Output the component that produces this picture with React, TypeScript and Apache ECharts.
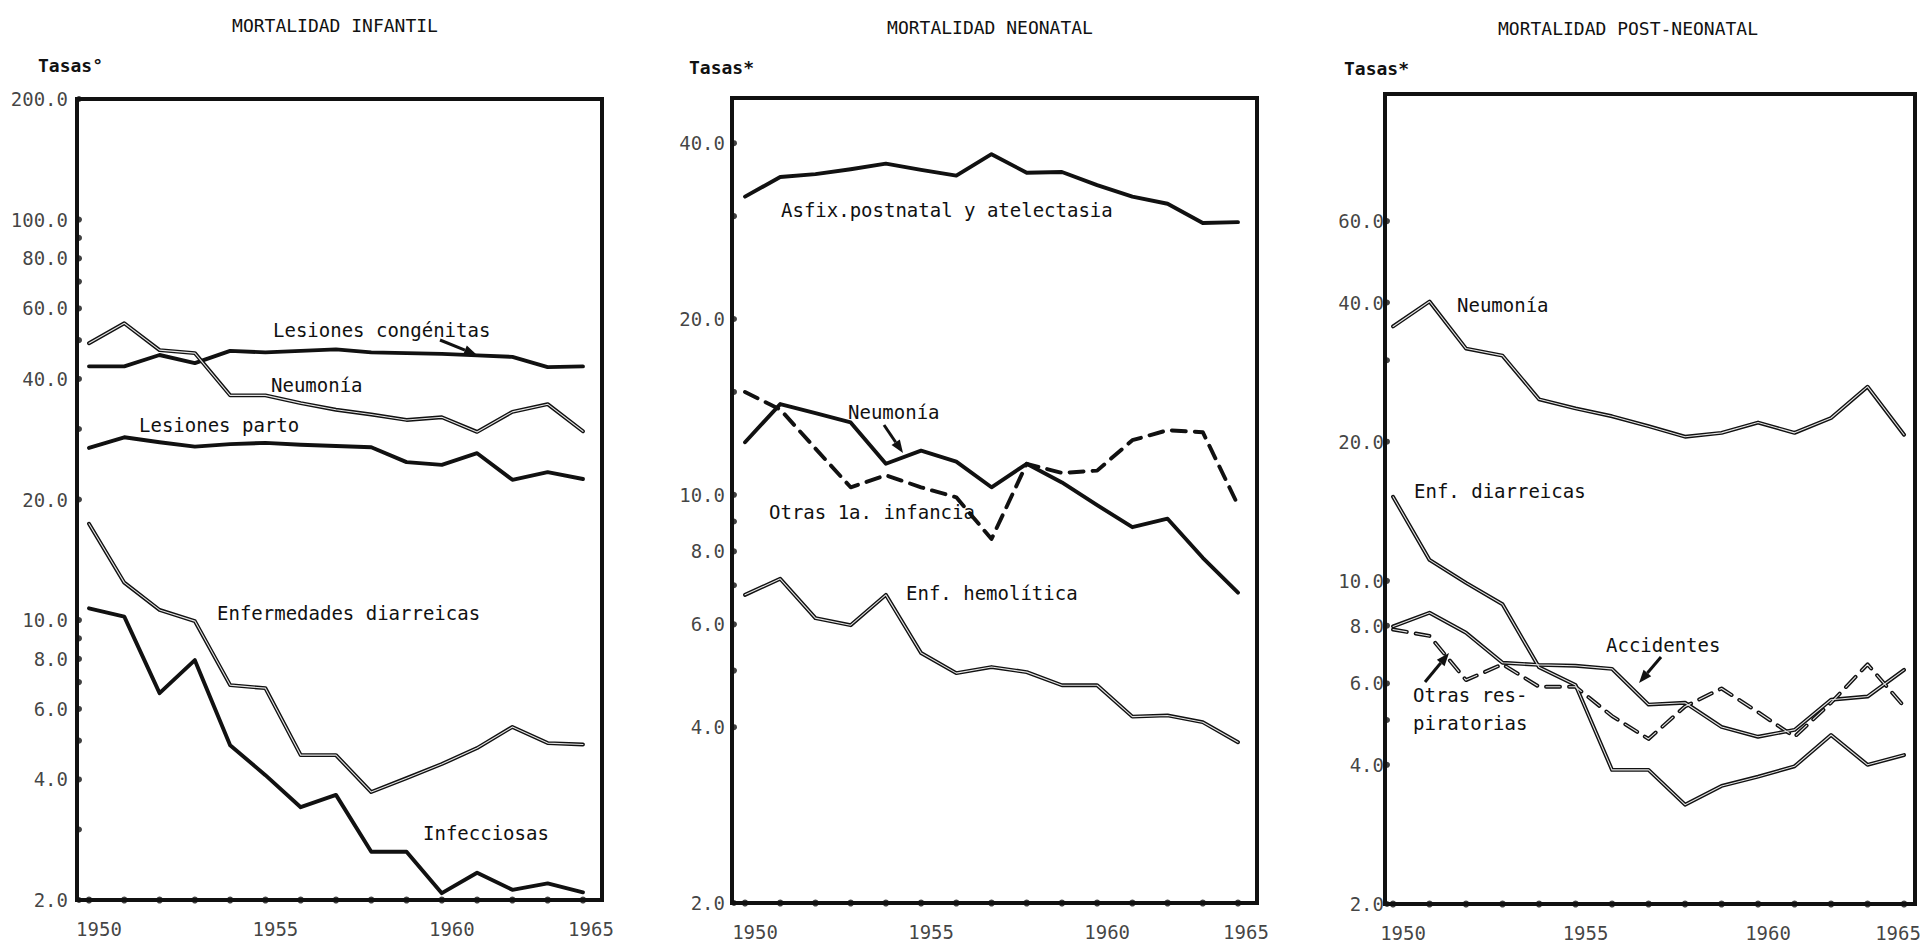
import React, { useEffect, useRef } from "react";
import * as echarts from "echarts";

// ---------- data ----------
const years = [1950, 1951, 1952, 1953, 1954, 1955, 1956, 1957, 1958, 1959, 1960, 1961, 1962, 1963, 1964];
const yearTickPositions = [1950, 1955, 1960, 1964];
const yearTickLabels = ["1950", "1955", "1960", "1965"];

const panelTitles = ["MORTALIDAD INFANTIL", "MORTALIDAD NEONATAL", "MORTALIDAD POST-NEONATAL"];
const unitLabels = ["Tasas°", "Tasas*", "Tasas*"];

// y-axis tick marks and labelled values (log scale)
const infantilTicks = [2, 3, 4, 5, 6, 7, 8, 9, 10, 20, 30, 40, 50, 60, 70, 80, 90, 100, 200];
const infantilTickLabels = [2, 4, 6, 8, 10, 20, 40, 60, 80, 100, 200];
const neonatalTicks = [2, 4, 5, 6, 7, 8, 9, 10, 15, 20, 30, 40];
const neonatalTickLabels = [2, 4, 6, 8, 10, 20, 40];
const postTicks = [2, 4, 5, 6, 8, 10, 20, 30, 40, 60];
const postTickLabels = [2, 4, 6, 8, 10, 20, 40, 60];

// Mortalidad infantil
const infLesionesCongenitas = [43.0, 43.0, 45.9, 43.8, 47.0, 46.6, 47.0, 47.4, 46.6, 46.4, 46.2, 45.8, 45.4, 42.8, 43.0];
const infNeumonia = [49.1, 55.1, 47.2, 46.4, 36.4, 36.4, 34.8, 33.5, 32.6, 31.6, 32.1, 29.5, 33.1, 34.6, 29.6];
const infLesionesParto = [26.9, 28.6, 27.8, 27.1, 27.5, 27.7, 27.4, 27.2, 27.0, 24.8, 24.4, 26.1, 22.4, 23.4, 22.5];
const infDiarreicas = [17.4, 12.4, 10.6, 9.94, 6.88, 6.76, 4.6, 4.6, 3.72, 4.03, 4.37, 4.79, 5.41, 4.93, 4.89];
const infInfecciosas = [10.7, 10.2, 6.57, 7.94, 4.87, 4.1, 3.41, 3.66, 2.64, 2.64, 2.08, 2.34, 2.12, 2.2, 2.09];

// Mortalidad neonatal
const neoAsfixia = [32.4, 35.0, 35.4, 36.1, 36.9, 36.0, 35.2, 38.3, 35.6, 35.7, 33.9, 32.4, 31.5, 29.2, 29.3];
const neoNeumonia = [12.3, 14.3, 13.8, 13.3, 11.3, 11.9, 11.4, 10.3, 11.3, 10.5, 9.6, 8.8, 9.1, 7.8, 6.8];
const neoOtrasInfancia = [15.0, 14.0, 12.0, 10.3, 10.8, 10.3, 9.9, 8.4, 11.3, 10.9, 11.0, 12.4, 12.9, 12.8, 9.6];
const neoHemolitica = [6.74, 7.18, 6.15, 5.98, 6.74, 5.36, 4.95, 5.07, 4.97, 4.72, 4.72, 4.17, 4.19, 4.08, 3.77];

// Mortalidad post-neonatal
const postNeumonia = [35.5, 40.2, 31.8, 30.7, 24.7, 23.6, 22.7, 21.6, 20.5, 20.9, 22.0, 20.9, 22.5, 26.3, 20.7];
const postDiarreicas = [15.2, 11.1, 9.9, 8.9, 6.5, 5.95, 3.9, 3.9, 3.28, 3.6, 3.77, 3.97, 4.64, 4.0, 4.2];
const postAccidentes = [7.97, 8.53, 7.72, 6.65, 6.58, 6.55, 6.45, 5.4, 5.45, 4.83, 4.6, 4.76, 5.53, 5.62, 6.42];
const postOtrasResp = [7.85, 7.6, 6.1, 6.6, 5.9, 5.9, 5.1, 4.55, 5.35, 5.85, 5.2, 4.6, 5.45, 6.6, 5.35];

// ---------- layout ----------
const FONT = "DejaVu Sans Mono";
const INK = "#111111";

const panels = [
  { grid: { left: 77, top: 99, width: 525, height: 801 }, xMin: 1949.66, xMax: 1964.54, yMax: 200, labelDistance: 8, titleX: 335, titleY: 25, unitX: 38, unitY: 65, lastLabelShift: 8, ticks: infantilTicks, tickLabels: infantilTickLabels },
  { grid: { left: 732, top: 98, width: 525, height: 805 }, xMin: 1949.63, xMax: 1964.54, yMax: 47.8, labelDistance: 6, titleX: 990, titleY: 27, unitX: 689, unitY: 67, lastLabelShift: 8, ticks: neonatalTicks, tickLabels: neonatalTickLabels },
  { grid: { left: 1385, top: 94, width: 530, height: 810 }, xMin: 1949.78, xMax: 1964.3, yMax: 113, labelDistance: 0, titleX: 1628, titleY: 28, unitX: 1344, unitY: 68, lastLabelShift: -6, ticks: postTicks, tickLabels: postTickLabels },
];

const annotations = [
  { text: "Lesiones congénitas", x: 273, y: 330 },
  { text: "Neumonía", x: 271, y: 385 },
  { text: "Lesiones parto", x: 139, y: 425 },
  { text: "Enfermedades diarreicas", x: 217, y: 613 },
  { text: "Infecciosas", x: 423, y: 833 },
  { text: "Asfix.postnatal y atelectasia", x: 781, y: 210 },
  { text: "Neumonía", x: 848, y: 412 },
  { text: "Otras 1a. infancia", x: 769, y: 512 },
  { text: "Enf. hemolítica", x: 906, y: 593 },
  { text: "Neumonía", x: 1457, y: 305 },
  { text: "Enf. diarreicas", x: 1414, y: 491 },
  { text: "Accidentes", x: 1606, y: 645 },
  { text: "Otras res-", x: 1413, y: 695 },
  { text: "piratorias", x: 1413, y: 723 },
];

const arrows = [
  [440, 340, 477, 355],
  [884, 425, 903, 453],
  [1661, 657, 1639, 683],
  [1425, 682, 1449, 653],
];

function lineSeries(panel: number, name: string, values: number[], dashed: boolean, hollow: boolean) {
  const pts = years.map((y, i) => [y, values[i]]);
  const type: any = dashed ? [14, 9] : "solid";
  const base: any = {
    type: "line",
    name,
    xAxisIndex: panel,
    yAxisIndex: panel,
    data: pts,
    symbol: "none",
    silent: true,
  };
  const out: any[] = [
    { ...base, z: 3, lineStyle: { color: INK, width: 3.9, type, cap: "round", join: "round" } },
  ];
  if (hollow) {
    out.push({ ...base, name: name + " (centro)", z: 4, lineStyle: { color: "#e4e4e4", width: 1.1, type, cap: "round", join: "round" } });
  }
  return out;
}

function arrowGraphic(x1: number, y1: number, x2: number, y2: number) {
  const ang = Math.atan2(y2 - y1, x2 - x1);
  const L = 13, W = 5;
  const bx = x2 - L * Math.cos(ang), by = y2 - L * Math.sin(ang);
  const px = -Math.sin(ang) * W, py = Math.cos(ang) * W;
  return [
    { type: "line", shape: { x1, y1, x2: bx, y2: by }, style: { stroke: INK, lineWidth: 3 } },
    { type: "polygon", shape: { points: [[x2, y2], [bx + px, by + py], [bx - px, by - py]] }, style: { fill: INK } },
  ];
}

function textGraphic(text: string, x: number, y: number, align: string, size: number, weight: string) {
  return {
    type: "text",
    x,
    y,
    silent: true,
    style: {
      text,
      x: 0,
      y: 0,
      fill: INK,
      font: `${weight} ${size}px "${FONT}"`,
      align,
      verticalAlign: "middle",
      textAlign: align,
      textVerticalAlign: "middle",
    },
  };
}

export default function App() {
  const ref = useRef<HTMLDivElement>(null);

  useEffect(() => {
    if (!ref.current) return;
    const chart = echarts.init(ref.current, undefined, { renderer: "svg" });

    const grids = panels.map((p) => ({
      ...p.grid,
      show: true,
      borderColor: INK,
      borderWidth: 4,
      backgroundColor: "transparent",
    }));
    const xAxes = panels.map((p, i) => ({ type: "value", gridIndex: i, min: p.xMin, max: p.xMax, show: false }));
    const yAxes = panels.map((p, i) => ({ type: "log", logBase: 10, gridIndex: i, min: 2, max: p.yMax, show: false }));

    const series: any[] = [];
    // axis tick dots + labels
    panels.forEach((p, i) => {
      series.push({
        type: "scatter",
        name: "ticks" + i,
        xAxisIndex: i,
        yAxisIndex: i,
        clip: false,
        silent: true,
        z: 6,
        symbol: "circle",
        symbolSize: 6,
        symbolOffset: [2, 0],
        itemStyle: { color: INK },
        data: p.ticks.map((v) => [p.xMin, v]),
        label: {
          show: true,
          position: "left",
          distance: p.labelDistance,
          color: INK,
          fontFamily: FONT,
          fontSize: 19,
          formatter: (d: any) => (p.tickLabels.indexOf(d.value[1]) >= 0 ? d.value[1].toFixed(1) : ""),
        },
      });
      series.push({
        type: "scatter",
        name: "years" + i,
        xAxisIndex: i,
        yAxisIndex: i,
        clip: false,
        silent: true,
        z: 6,
        symbol: "circle",
        symbolSize: 7,
        itemStyle: { color: INK },
        data: years.map((y, k) =>
          k === years.length - 1
            ? { value: [y, 2], label: { offset: [p.lastLabelShift, 0] } }
            : { value: [y, 2] }
        ),
        label: {
          show: true,
          position: "bottom",
          distance: 16,
          offset: [10, 0],
          color: INK,
          fontFamily: FONT,
          fontSize: 19,
          formatter: (d: any) => {
            const k = yearTickPositions.indexOf(d.value[0]);
            return k >= 0 ? yearTickLabels[k] : "";
          },
        },
      });
    });

    series.push(
      ...lineSeries(0, "Lesiones congénitas", infLesionesCongenitas, false, false),
      ...lineSeries(0, "Neumonía", infNeumonia, false, true),
      ...lineSeries(0, "Lesiones parto", infLesionesParto, false, false),
      ...lineSeries(0, "Enfermedades diarreicas", infDiarreicas, false, true),
      ...lineSeries(0, "Infecciosas", infInfecciosas, false, false),
      ...lineSeries(1, "Asfix.postnatal y atelectasia", neoAsfixia, false, false),
      ...lineSeries(1, "Neumonía", neoNeumonia, false, false),
      ...lineSeries(1, "Otras 1a. infancia", neoOtrasInfancia, true, false),
      ...lineSeries(1, "Enf. hemolítica", neoHemolitica, false, true),
      ...lineSeries(2, "Neumonía", postNeumonia, false, true),
      ...lineSeries(2, "Enf. diarreicas", postDiarreicas, false, true),
      ...lineSeries(2, "Accidentes", postAccidentes, false, true),
      ...lineSeries(2, "Otras respiratorias", postOtrasResp, true, true),
    );

    const graphics: any[] = [];
    panels.forEach((p, i) => {
      graphics.push(textGraphic(panelTitles[i], p.titleX, p.titleY, "center", 18, "normal"));
      graphics.push(textGraphic(unitLabels[i], p.unitX, p.unitY, "left", 18, "bold"));
    });
    annotations.forEach((a) => graphics.push(textGraphic(a.text, a.x, a.y, "left", 19, "normal")));
    arrows.forEach((a) => graphics.push(...arrowGraphic(a[0], a[1], a[2], a[3])));

    chart.setOption({
      animation: false,
      backgroundColor: "#ffffff",
      grid: grids,
      xAxis: xAxes,
      yAxis: yAxes,
      series,
      graphic: { elements: graphics },
    });

    return () => chart.dispose();
  }, []);

  return <div ref={ref} style={{ position: "fixed", left: 0, top: 0, width: 1925, height: 944, background: "#fff" }} />;
}
